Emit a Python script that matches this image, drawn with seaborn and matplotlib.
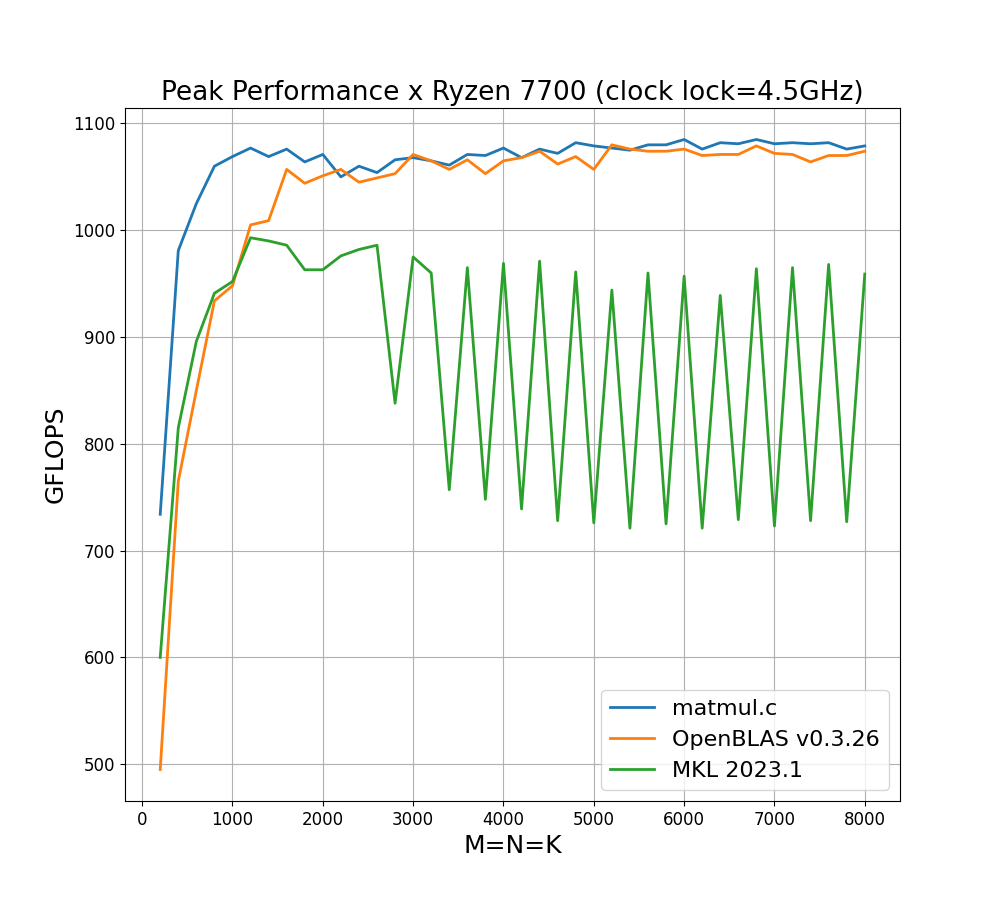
import matplotlib
matplotlib.use("Agg")
import matplotlib.pyplot as plt
import seaborn as sns
import pandas as pd

sizes = list(range(200, 8001, 200))
matmul = [734, 981, 1025, 1060, 1069, 1077, 1069, 1076, 1064, 1071, 1050, 1060, 1054, 1066, 1068, 1065, 1061, 1071, 1070, 1077,
          1068, 1076, 1072, 1082, 1079, 1077, 1075, 1080, 1080, 1085, 1076, 1082, 1081, 1085, 1081, 1082, 1081, 1082, 1076, 1079]
openblas = [495, 765, 850, 934, 948, 1005, 1009, 1057, 1044, 1051, 1057, 1045, 1049, 1053, 1071, 1065, 1057, 1066, 1053, 1065,
            1068, 1074, 1062, 1069, 1057, 1080, 1076, 1074, 1074, 1076, 1070, 1071, 1071, 1079, 1072, 1071, 1064, 1070, 1070, 1074]
mkl = [600, 815, 896, 941, 952, 993, 990, 986, 963, 963, 976, 982, 986, 838, 975, 960, 757, 965, 748, 969,
       739, 971, 728, 961, 726, 944, 721, 960, 725, 957, 721, 939, 729, 964, 723, 965, 728, 968, 727, 959]
labels = ["matmul.c", "OpenBLAS v0.3.26", "MKL 2023.1"]

df = pd.concat([pd.DataFrame({"M=N=K": sizes, "GFLOPS": v, "lib": l})
                for v, l in zip([matmul, openblas, mkl], labels)])

fig = plt.figure(figsize=(10, 9), dpi=100)
ax = fig.add_axes([0.125, 0.11, 0.775, 0.77])
sns.lineplot(data=df, x="M=N=K", y="GFLOPS", hue="lib", ax=ax, linewidth=2,
             palette=["#1f77b4", "#ff7f0e", "#2ca02c"])
ax.grid(True)
ax.set_title("Peak Performance x Ryzen 7700 (clock lock=4.5GHz)", fontsize=19)
ax.set_xlabel("M=N=K", fontsize=18)
ax.set_ylabel("GFLOPS", fontsize=18)
ax.tick_params(labelsize=12)
ax.legend(title=None, fontsize=16, loc="lower right")
fig.savefig("out.png")
